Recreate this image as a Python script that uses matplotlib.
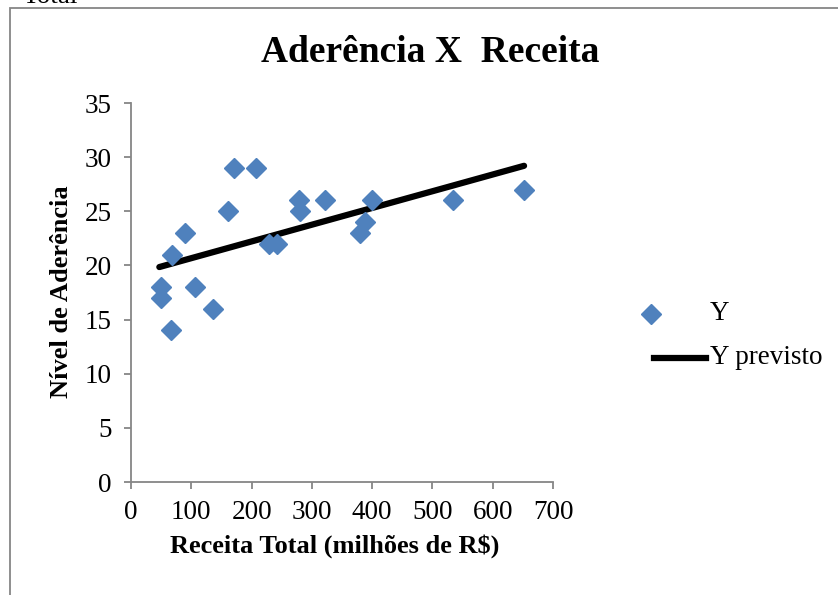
"""Aderência X Receita scatter with fitted line."""

import matplotlib

matplotlib.use("Agg")
import matplotlib.pyplot as plt
from matplotlib.lines import Line2D
from matplotlib.patches import Rectangle

receita = [50, 50, 66, 68, 90, 106, 136, 161, 171, 207, 229, 242, 279, 280, 322, 380, 388, 400, 534, 652]
aderencia = [18, 17, 14, 21, 23, 18, 16, 25, 29, 29, 22, 22, 26, 25, 26, 23, 24, 26, 26, 27]
receita_prev = [47, 652]
aderencia_prev = [19.85, 29.2]

x_ticks = [0, 100, 200, 300, 400, 500, 600, 700]
y_ticks = [0, 5, 10, 15, 20, 25, 30, 35]

plt.rcParams["font.family"] = ["Liberation Serif", "DejaVu Serif"]

W, H = 838, 595
BLUE = "#4F81BD"
GREY = "#868686"
FS = 19.5

fig = plt.figure(figsize=(W / 100, H / 100), dpi=100, facecolor="white")
ax = fig.add_axes([131 / W, 1 - 482 / H, (553 - 131) / W, (482 - 103) / H])

ax.plot(receita_prev, aderencia_prev, color="black", lw=4.5, solid_capstyle="round", zorder=2)
ax.plot(receita, aderencia, linestyle="none", marker="D", ms=10, color=BLUE,
        markeredgecolor=BLUE, zorder=3)

ax.set_xlim(0, 700)
ax.set_ylim(0, 35)
ax.set_xticks(x_ticks)
ax.set_yticks(y_ticks)
for s in ("top", "right"):
    ax.spines[s].set_visible(False)
for s in ("left", "bottom"):
    ax.spines[s].set_color(GREY)
    ax.spines[s].set_linewidth(1.3)
ax.tick_params(direction="out", length=5, width=1.3, color=GREY, labelsize=FS)
ax.tick_params(axis="x", pad=8)
ax.tick_params(axis="y", pad=9)

# titles placed in figure pixels
def px(x, y):
    return x / W, 1 - y / H

fig.text(*px(430, 52), "Aderência X  Receita", ha="center", va="center",
         fontsize=27, fontweight="bold")
fig.text(*px(335, 546), "Receita Total (milhões de R$)", ha="center", va="center",
         fontsize=19, fontweight="bold")
fig.text(*px(62, 292), "Nível de Aderência", ha="center", va="center", rotation=90,
         fontsize=19, fontweight="bold")

# legend drawn by hand so the diamond and line samples sit like the original
fig.add_artist(Line2D([px(651, 0)[0]], [px(0, 314)[1]], transform=fig.transFigure,
                      marker="D", ms=10, color=BLUE, linestyle="none"))
fig.text(*px(710, 314), "Y", ha="left", va="center", fontsize=FS)
fig.add_artist(Line2D([px(654, 0)[0], px(706, 0)[0]], [px(0, 358)[1]] * 2,
                      transform=fig.transFigure, color="black", lw=4.5))
fig.text(*px(710, 358), "Y previsto", ha="left", va="center", fontsize=FS)

# chart area border and the cut-off text above it
fig.add_artist(Rectangle((10 / W, -0.1), 1.2, 1 - 8 / H + 0.1, transform=fig.transFigure,
                         fill=False, edgecolor=GREY, lw=1.3, clip_on=False))
fig.text(22 / W, 1 - 3 / H, "Total", ha="left", va="baseline", fontsize=FS)

fig.savefig("out.png", dpi=100)
